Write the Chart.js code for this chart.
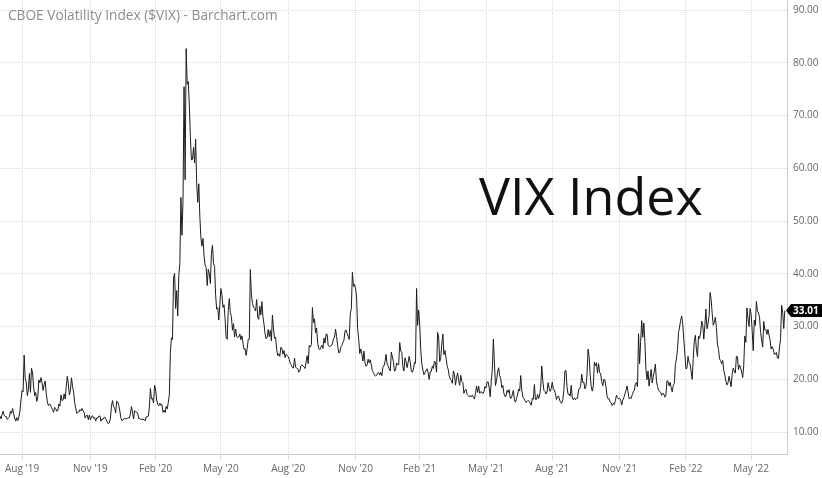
<!DOCTYPE html>
<html>
<head>
<meta charset="utf-8">
<script src="https://cdn.jsdelivr.net/npm/chart.js@4.4.1/dist/chart.umd.min.js"></script>
<style>
  html, body { margin: 0; padding: 0; background: #ffffff; }
  #wrap { width: 822px; height: 478px; position: relative; }
</style>
</head>
<body>
<div id="wrap"><canvas id="c" width="822" height="478"></canvas></div>
<script>
// Daily closes of the CBOE Volatility Index, one value per trading day (index 0 = 1 Jul 2019)
const vix2019 = [
  14.06,12.93,12.57,13.28,13.96,13.19,12.93,12.93,12.39,12.68,12.86,13.97,13.53,14.45,13.53,12.61,12.07,12.74,12.16,12.83,13.94,16.12,
  17.87,17.61,24.59,20.17,19.49,16.91,17.97,21.09,17.52,22.10,21.18,18.47,16.88,17.50,15.80,16.68,19.87,19.32,20.31,19.35,17.88,18.98,
  19.66,17.33,15.82,15.00,15.27,15.20,14.61,14.22,13.74,14.67,14.44,13.95,14.05,15.32,14.91,17.05,15.96,16.07,17.22,16.24,
  18.56,20.56,19.12,17.04,17.86,20.28,18.64,17.57,15.58,14.57,13.54,13.68,13.79,14.25,14.00,14.46,14.01,13.71,12.65,13.11,13.20,12.33,13.22,
  12.30,12.83,13.10,12.62,12.73,12.07,12.69,12.68,13.00,13.05,12.05,12.46,12.41,12.78,12.78,12.34,11.87,11.54,11.75,12.62,
  14.91,15.96,14.80,14.52,13.62,15.86,15.68,14.99,13.94,12.63,12.14,12.29,12.58,12.50,12.51,12.61,12.67,12.65,13.43,14.82,13.78
];
const vix2020 = [
  12.47,14.02,13.85,13.79,13.45,12.54,12.56,12.32,12.39,12.42,12.32,12.10,12.85,12.91,12.98,14.56,18.23,16.28,16.39,15.49,18.84,
  17.97,16.05,15.15,14.96,15.47,15.04,15.18,13.74,14.15,13.68,14.83,14.38,15.56,17.08,25.03,27.85,27.56,39.16,40.11,
  33.42,36.82,31.99,39.62,41.94,54.46,47.30,53.90,75.47,57.83,82.69,75.91,76.45,72.00,66.04,61.59,61.67,63.95,61.00,65.54,57.08,53.54,
  57.06,50.91,46.80,45.24,46.70,43.35,41.67,41.17,37.76,40.84,40.11,38.15,43.83,45.41,41.98,41.38,35.93,33.29,33.57,31.23,34.15,
  37.19,35.97,33.61,34.12,31.44,27.98,27.57,33.04,35.28,32.61,31.89,29.30,30.53,27.99,29.53,28.16,27.91,28.01,28.59,27.51,
  28.23,26.84,25.66,25.81,24.52,25.81,27.57,27.57,40.79,36.09,34.40,33.67,33.47,32.94,35.12,31.77,31.37,33.84,32.22,34.73,31.78,30.43,
  28.62,27.68,27.94,29.43,28.08,29.26,27.29,32.19,29.52,27.76,28.00,25.68,24.46,24.84,24.32,26.08,25.84,24.74,25.44,24.10,24.76,24.46,
  24.28,23.76,22.99,22.65,22.21,22.13,24.03,22.28,22.13,22.05,21.35,21.51,22.54,22.72,22.54,22.37,22.03,23.27,24.47,22.96,26.41,
  26.12,26.57,33.60,30.75,31.46,28.81,29.71,26.87,25.85,25.59,26.04,26.46,25.83,27.78,26.86,28.58,28.51,26.38,26.19,26.27,26.37,
  26.70,27.63,27.96,29.48,28.06,26.36,25.00,25.07,26.07,26.40,26.97,27.41,29.18,29.35,28.65,28.11,27.55,32.46,33.35,40.28,37.59,38.02,
  37.13,35.55,29.57,27.58,24.86,25.75,24.80,23.45,25.35,23.10,22.45,22.71,23.84,23.11,23.70,22.66,21.64,21.25,20.84,20.57,
  20.77,21.17,21.28,20.79,21.30,20.68,22.27,22.52,23.31,24.72,22.89,22.50,21.93,21.57,25.16,24.23,23.31,21.53,21.70,23.08,22.77,22.75
];
const vix2021 = [
  26.97,25.34,25.07,22.37,21.56,24.08,23.33,22.21,23.25,24.34,23.24,21.58,21.32,21.91,23.19,23.02,37.21,30.21,33.09,
  30.24,25.56,22.91,21.77,20.87,21.24,21.63,21.99,21.25,19.97,21.46,21.50,22.49,22.05,23.45,23.11,21.34,28.89,27.95,
  23.35,24.10,26.67,28.57,24.66,25.47,24.03,22.56,21.91,20.69,20.03,19.79,19.23,21.58,20.95,18.88,20.30,21.20,19.81,18.86,20.74,19.61,19.40,
  17.33,17.91,18.12,17.16,16.95,16.69,16.91,16.65,16.99,16.57,16.25,17.30,18.68,17.50,18.71,17.33,17.64,17.56,17.28,17.61,18.61,
  18.31,19.48,19.50,18.39,16.69,19.66,21.84,27.59,23.13,18.81,19.72,21.34,22.18,20.67,20.15,18.40,18.84,17.36,16.74,16.76,
  17.90,17.48,18.04,16.42,16.42,17.07,17.89,16.10,15.65,16.39,17.02,18.15,17.75,20.70,17.89,16.66,16.32,15.97,15.62,15.76,16.02,15.83,
  15.48,15.07,16.44,16.20,19.00,16.18,16.17,17.12,16.33,17.01,18.45,22.50,19.73,17.91,17.69,17.20,17.58,19.36,18.31,17.70,18.24,
  19.46,18.04,17.97,17.28,16.15,16.72,16.79,16.06,15.59,15.45,16.12,17.91,21.57,21.67,18.56,17.15,17.22,16.79,18.84,16.39,16.11,16.48,
  16.11,16.41,16.41,18.07,18.15,18.80,20.95,19.37,19.46,18.18,18.69,20.81,25.71,24.36,20.87,18.63,17.75,18.76,23.25,22.56,23.14,
  21.15,22.96,21.30,21.00,19.54,18.77,20.00,19.85,18.64,16.86,16.30,16.30,15.70,15.49,15.01,15.43,15.24,15.98,16.98,16.53,16.26,
  16.41,16.03,15.10,16.03,16.48,17.22,17.78,18.73,17.66,16.29,16.49,16.37,17.11,17.59,17.91,19.17,19.38,18.58,28.62,22.96,27.19,
  31.12,27.95,30.67,27.18,21.89,19.90,21.58,18.69,20.31,21.89,19.29,20.57,21.57,22.87,19.70,18.63,17.96,17.68,17.54,16.95,17.33,17.22
];
const vix2022 = [
  16.60,16.91,19.73,19.61,18.76,19.40,18.41,17.62,18.83,19.19,22.79,23.85,25.59,28.85,29.90,31.16,31.96,30.49,27.66,24.83,
  21.96,22.09,24.35,23.22,22.86,21.44,19.96,23.91,27.36,28.33,25.70,24.29,28.11,27.75,28.81,31.02,30.32,27.59,30.15,
  33.32,29.57,30.48,31.98,36.45,35.13,32.45,30.23,30.75,31.77,29.83,26.67,25.67,23.87,23.53,22.94,23.57,21.67,20.81,19.63,18.90,19.33,20.56,
  19.63,18.57,21.03,22.10,21.55,21.16,24.37,24.26,21.82,22.70,22.17,21.37,20.32,22.68,28.21,27.02,33.52,31.60,29.99,33.40,
  32.34,29.25,25.42,31.20,30.19,34.75,32.99,32.56,31.77,28.87,27.47,26.10,30.96,29.35,29.43,28.48,29.45,28.37,27.50,25.72,26.19,
  25.69,24.72,24.79,25.07,24.02,23.96,26.09,27.75,34.02,32.69,29.62,33.01
];
// x-axis tick positions (trading-day index of the first session of the month) and labels
const tickIndex  = [22, 87, 149, 211, 275, 339, 400, 463, 526, 590, 653, 715];
const tickLabels = ["Aug '19","Nov '19","Feb '20","May '20","Aug '20","Nov '20","Feb '21","May '21","Aug '21","Nov '21","Feb '22","May '22"];
const yTicks = [10, 20, 30, 40, 50, 60, 70, 80, 90];
const titleText = "CBOE Volatility Index ($VIX) - Barchart.com";
const bigText = "VIX Index";

const vix = vix2019.concat(vix2020, vix2021, vix2022);
const points = vix.map((v, i) => ({ x: i, y: v }));
const lastValue = vix[vix.length - 1];

const overlay = {
  id: 'overlay',
  afterDraw(chart) {
    const ctx = chart.ctx;
    const ys = chart.scales.y;
    ctx.save();
    // title
    ctx.fillStyle = '#8c8c8c';
    ctx.font = '13.7px "Open Sans"';
    ctx.textAlign = 'left';
    ctx.textBaseline = 'middle';
    ctx.fillText(titleText, 8, 16);
    // big label
    ctx.fillStyle = '#111111';
    ctx.font = '52px "Open Sans"';
    ctx.textBaseline = 'alphabetic';
    ctx.fillText(bigText, 479, 215);
    // last value badge
    const py = Math.round(ys.getPixelForValue(lastValue)) - 0.5;
    const x0 = chart.chartArea.right - 1;
    ctx.fillStyle = '#000000';
    ctx.beginPath();
    ctx.moveTo(x0, py);
    ctx.lineTo(x0 + 5, py - 6.5);
    ctx.lineTo(822, py - 6.5);
    ctx.lineTo(822, py + 6.5);
    ctx.lineTo(x0 + 5, py + 6.5);
    ctx.closePath();
    ctx.fill();
    ctx.fillStyle = '#ffffff';
    ctx.font = 'bold 10px "Open Sans"';
    ctx.textBaseline = 'middle';
    ctx.fillText(lastValue.toFixed(2), x0 + 7, py + 0.5);
    ctx.restore();
  }
};

new Chart(document.getElementById('c'), {
  type: 'line',
  data: {
    datasets: [{
      data: points,
      borderColor: '#1c1c1c',
      borderWidth: 1,
      pointRadius: 0,
      tension: 0,
      fill: false
    }]
  },
  options: {
    responsive: false,
    animation: false,
    events: [],
    layout: { padding: 0 },
    plugins: { legend: { display: false }, tooltip: { enabled: false }, title: { display: false } },
    scales: {
      x: {
        type: 'linear',
        min: 1.05,
        max: 749.1,
        afterBuildTicks(scale) { scale.ticks = tickIndex.map(v => ({ value: v })); },
        afterFit(scale) { scale.height = 24; scale.paddingLeft = 0; scale.paddingRight = 0; },
        ticks: {
          autoSkip: false,
          maxRotation: 0,
          padding: 3,
          color: '#666666',
          font: { family: 'Open Sans', size: 10 },
          callback(value) { const k = tickIndex.indexOf(value); return k >= 0 ? tickLabels[k] : ''; }
        },
        grid: { color: '#d9d9d9', tickLength: 6, lineWidth: 1 },
        border: { display: true, color: '#cccccc', dash: [1, 1] }
      },
      y: {
        type: 'linear',
        position: 'right',
        min: 5.83,
        max: 91.9,
        afterBuildTicks(scale) { scale.ticks = yTicks.map(v => ({ value: v })); },
        afterFit(scale) { scale.width = 35; scale.paddingTop = 0; scale.paddingBottom = 0; },
        ticks: {
          padding: 6,
          color: '#666666',
          font: { family: 'Open Sans', size: 10 },
          callback(value) { return Number(value).toFixed(2); }
        },
        grid: { color: '#d9d9d9', drawTicks: false, lineWidth: 1 },
        border: { display: true, color: '#cccccc', dash: [1, 1] }
      }
    }
  },
  plugins: [overlay]
});
</script>
</body>
</html>
